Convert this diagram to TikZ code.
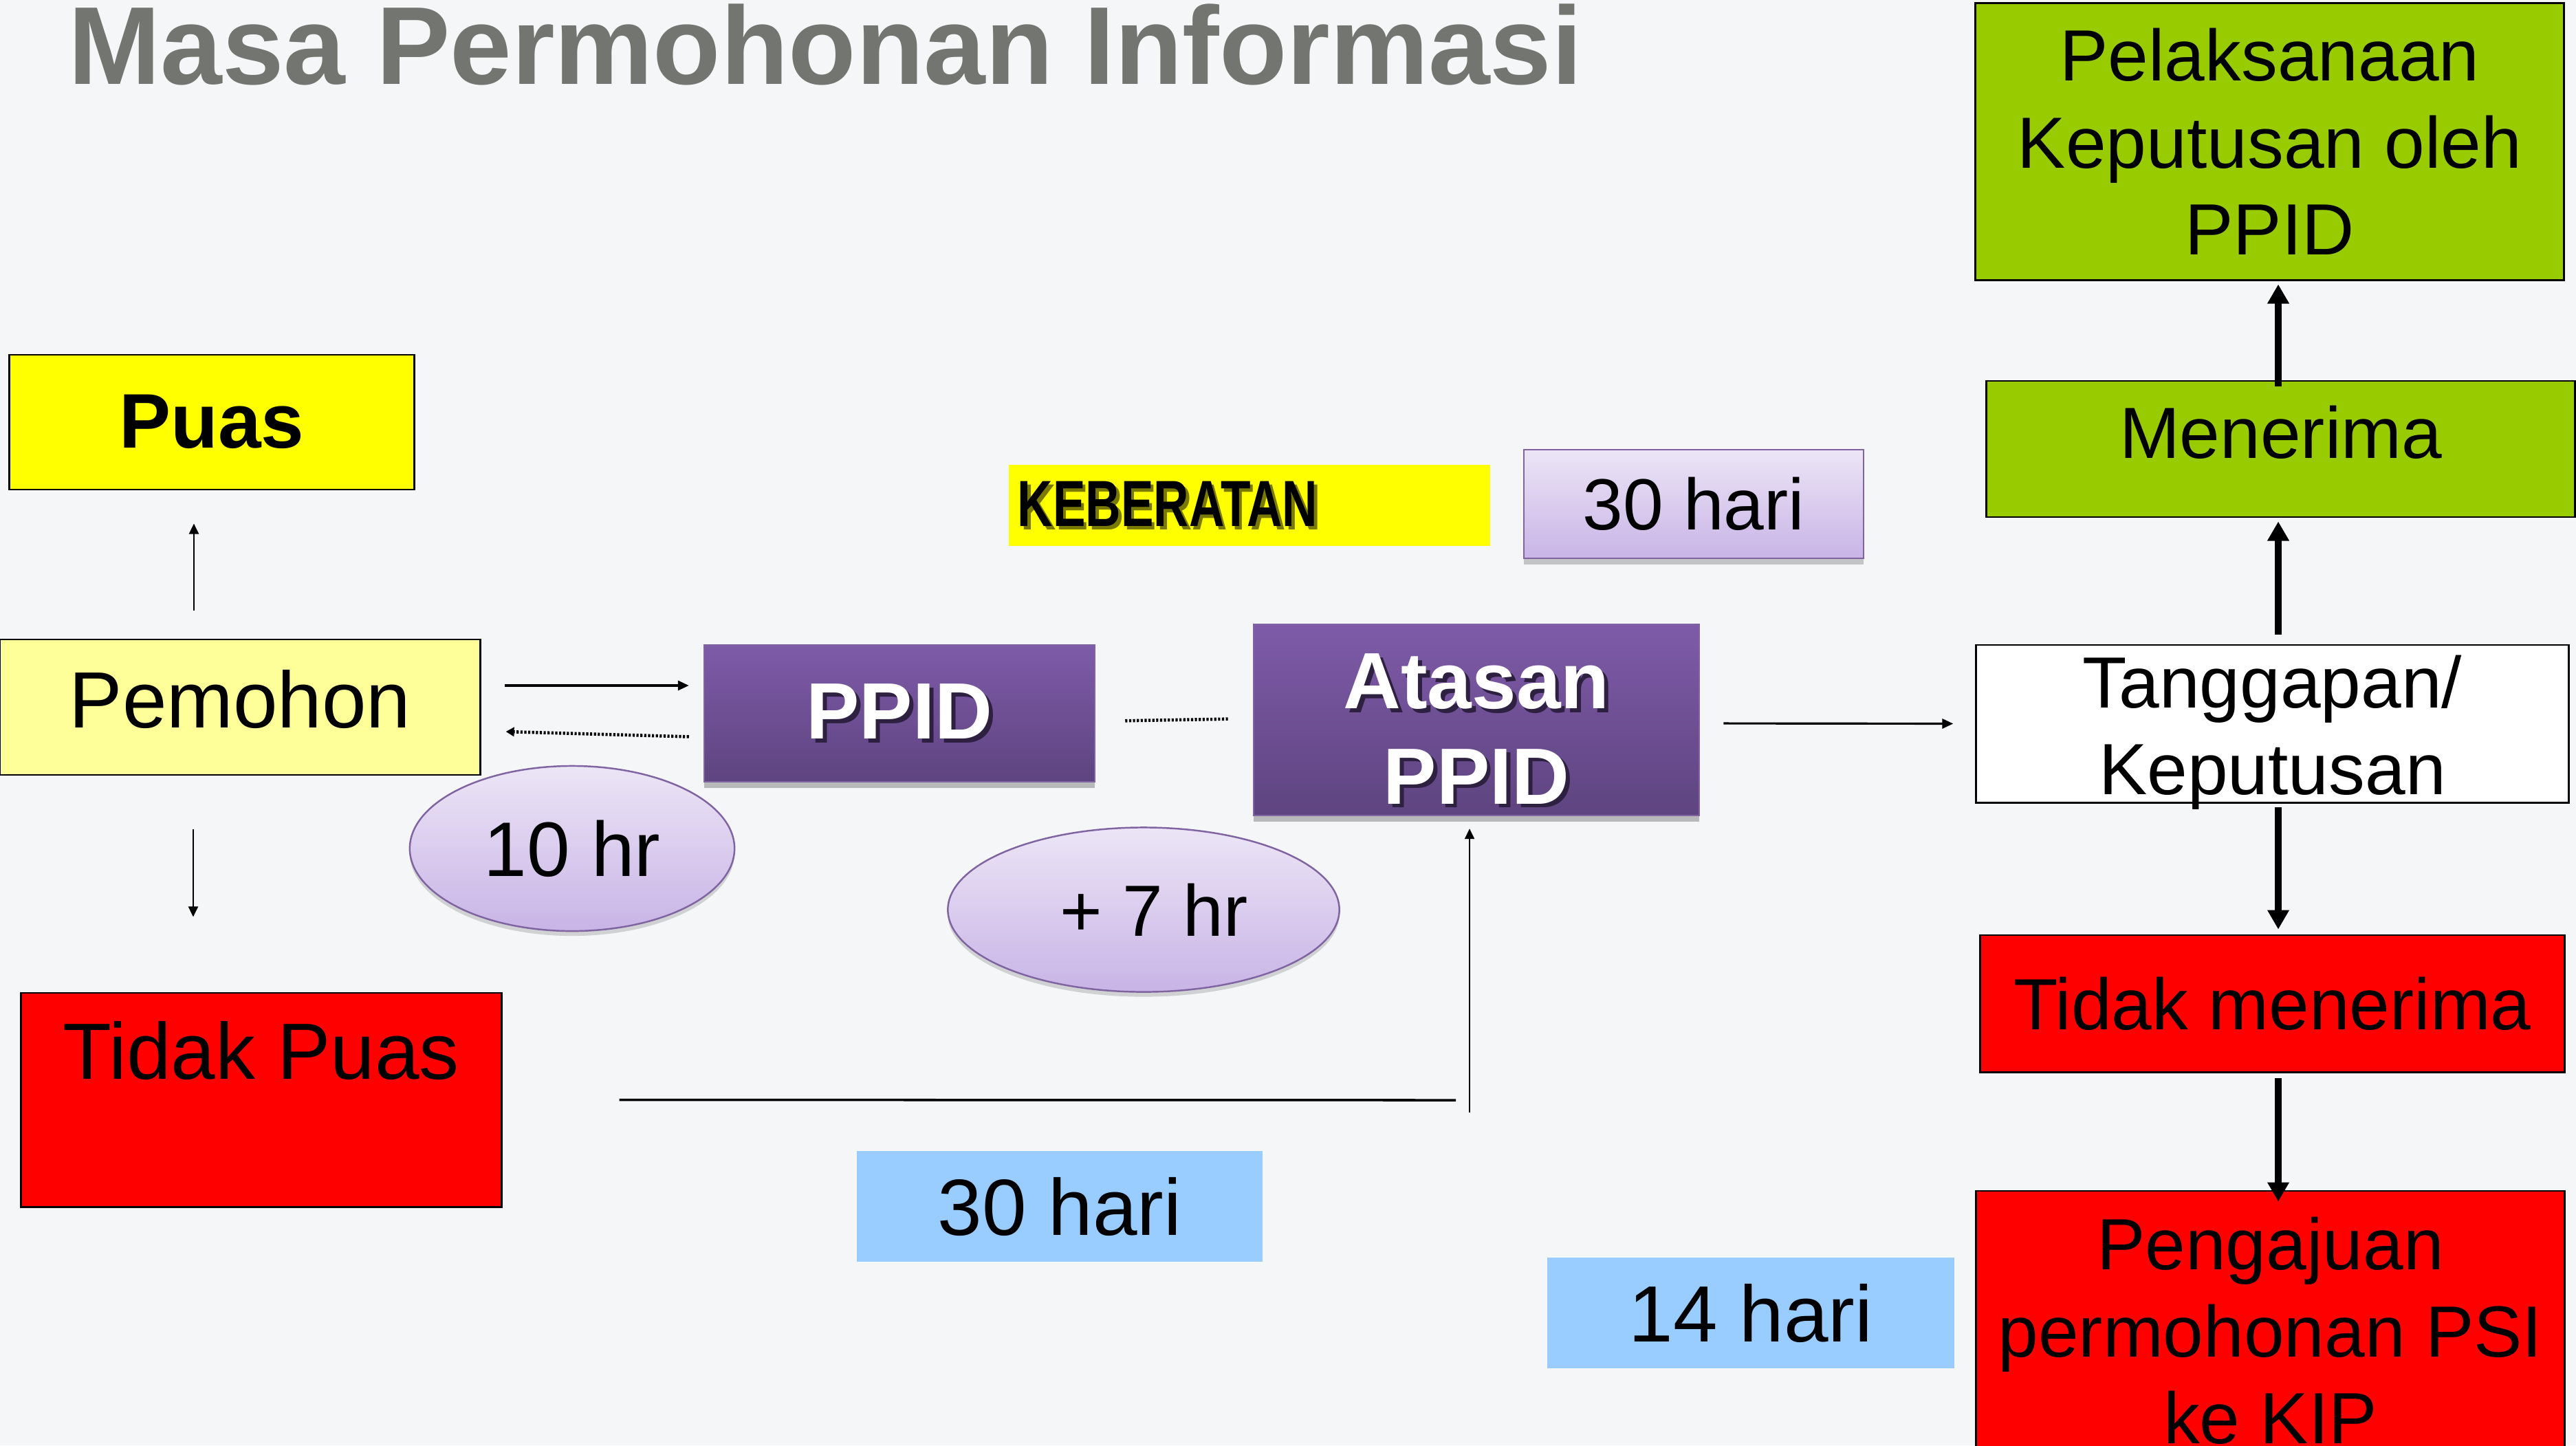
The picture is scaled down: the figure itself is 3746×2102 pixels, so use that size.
\documentclass[tikz,border=0pt]{standalone}
\usepackage{fontspec}
\setmainfont{Liberation Sans}
\newfontfamily\narrowfont[FakeStretch=0.75]{Liberation Sans}
\usetikzlibrary{shadows,arrows.meta,shapes.geometric}
\definecolor{bg}{HTML}{F4F6F8}
\definecolor{titlegray}{HTML}{737571}
\definecolor{yel}{HTML}{FFFF00}
\definecolor{lightyel}{HTML}{FFFF99}
\definecolor{redbox}{HTML}{FF0000}
\definecolor{greenbox}{HTML}{99CC00}
\definecolor{bluebox}{HTML}{99CCFF}
\definecolor{pptop}{HTML}{7E5BA8}
\definecolor{ppbot}{HTML}{5E4480}
\definecolor{ppedge}{HTML}{8064A2}
\definecolor{lavtop}{HTML}{ECE5F6}
\definecolor{lavbot}{HTML}{C8B4E6}
\definecolor{ppshadow}{HTML}{2E2040}
\definecolor{kbshadow}{HTML}{7A7A00}
\newcommand{\shadowed}[2]{\rlap{\kern0.05em\raisebox{-0.05em}{\textcolor{#1}{#2}}}#2}
\begin{document}
\begin{tikzpicture}[x=0.01cm, y=-0.01cm,
  f30/.style={font=\fontsize{30pt}{36pt}\selectfont},
  f32/.style={font=\fontsize{32pt}{38pt}\selectfont},
  f33/.style={font=\fontsize{33pt}{39.5pt}\selectfont},
  f33b/.style={font=\fontsize{33pt}{39.5pt}\selectfont\bfseries},
  plainbox/.style={draw=black, line width=0.8pt, inner sep=0pt, align=center},
  flatbox/.style={inner sep=0pt, align=center},
  purplebox/.style={top color=pptop, bottom color=ppbot, draw=ppedge, line width=0.6pt,
    inner sep=0pt, align=center, text=white,
    drop shadow={shadow xshift=0pt, shadow yshift=-2.5pt, opacity=0.25, fill=black}},
  lavbox/.style={top color=lavtop, bottom color=lavbot, draw=ppedge, line width=0.7pt,
    inner sep=0pt, align=center,
    drop shadow={shadow xshift=0pt, shadow yshift=-2.5pt, opacity=0.2, fill=black}},
  lavell/.style={ellipse, top color=lavtop, bottom color=lavbot, draw=ppedge, line width=0.7pt,
    inner sep=0pt, align=center,
    drop shadow={shadow xshift=0pt, shadow yshift=-2pt, opacity=0.15, fill=black}},
  thinarrow/.style={-{Triangle[width=0.14cm,length=0.16cm]}, line width=0.9pt},
  slimarrow/.style={-{Triangle[width=0.14cm,length=0.15cm]}, line width=0.6pt},
  thickarrow/.style={-{Triangle[width=0.3cm,length=0.28cm]}, line width=2.6pt},
  dotline/.style={line width=1.3pt, dash pattern=on 0.9pt off 0.7pt}
]
\fill[bg] (0,0) rectangle (3746,2102);
\useasboundingbox (0,0) rectangle (3746,2102);
\clip (0,0) rectangle (3746,2102);

% title
\node[anchor=base west, inner sep=0pt, text=titlegray,
  font=\fontsize{45.8pt}{50pt}\selectfont\bfseries] (title) at (99,122) {Masa Permohonan Informasi};

% left column
\node[plainbox, fill=yel, minimum width=5.88cm, minimum height=1.96cm,
  font=\fontsize{32pt}{38pt}\selectfont\bfseries, text height=0.8cm, text depth=0.05cm] (puas) at (308,614) {Puas};
\node[plainbox, fill=lightyel, minimum width=6.98cm, minimum height=1.97cm, f33,
  text height=0.85cm, text depth=0.26cm] (pemohon) at (349,1028.5) {Pemohon};
\node[plainbox, fill=redbox, minimum width=6.98cm, minimum height=3.11cm, f33,
  text height=0.83cm, text depth=1.44cm] (tidakpuas) at (380,1599.5) {Tidak Puas};

% middle
\node[purplebox, minimum width=5.68cm, minimum height=1.99cm, f33b] (ppid) at (1308,1037.5)
  {\shadowed{ppshadow}{PPID}};
\node[purplebox, minimum width=6.48cm, minimum height=2.78cm, f33b] (atasan) at (2147,1047)
  {\rule{0pt}{1.11cm}\shadowed{ppshadow}{Atasan}\\\shadowed{ppshadow}{PPID}};
\node[flatbox, fill=yel, minimum height=1.18cm, text width=6.74cm, inner xsep=0.13cm,
  align=left, font=\fontsize{27pt}{31pt}\narrowfont\bfseries] (keberatan) at (1817,735)
  {\shadowed{kbshadow}{KEBERATAN}};
\node[lavbox, minimum width=4.94cm, minimum height=1.58cm, f30] (hari30a) at (2463,733) {30 hari};
\node[lavell, minimum width=4.72cm, minimum height=2.4cm, f32] (tenhr) at (832,1234) {10 hr};
\node[lavell, minimum width=5.69cm, minimum height=2.39cm, f30] (sevenhr) at (1663,1323) {\hspace*{0.3cm}+ 7 hr};
\node[flatbox, fill=bluebox, minimum width=5.9cm, minimum height=1.61cm, f33] (hari30b) at (1541,1754.5) {30 hari};
\node[flatbox, fill=bluebox, minimum width=5.92cm, minimum height=1.61cm, f33] (hari14) at (2546,1909.5) {14 hari};

% right column
\node[plainbox, fill=greenbox, minimum width=8.55cm, minimum height=4.02cm, f30] (pelaksanaan) at (3300.5,206)
  {Pelaksanaan\\Keputusan oleh\\PPID};
\node[plainbox, fill=greenbox, minimum width=8.55cm, minimum height=1.98cm, f30,
  text height=0.75cm, text depth=0.49cm] (menerima) at (3316.5,653) {Menerima};
\node[draw=black, line width=0.8pt, inner sep=0pt, fill=white, minimum width=8.61cm, minimum height=2.29cm, f30,
  text height=0.5cm, text depth=0.97cm] (tanggapan) at (3304.5,1052.5)
  {\begin{tabular}[t]{@{}c@{}}Tanggapan/\\Keputusan\end{tabular}};
\node[plainbox, fill=redbox, minimum width=8.49cm, minimum height=1.99cm, f30] (tidakmenerima) at (3304.5,1459.5)
  {Tidak menerima};
\node[plainbox, fill=redbox, minimum width=8.55cm, minimum height=4.07cm, f30] (pengajuan) at (3301.5,1935.5)
  {Pengajuan\\permohonan PSI\\ke KIP};

% connectors, left
\draw[slimarrow, shorten <=0.41cm, shorten >=0.48cm]
  ([xshift=-0.67cm]pemohon.north) -- ([xshift=-0.67cm]pemohon.north |- puas.south);
\draw[slimarrow, shorten <=0.77cm, shorten >=1.09cm]
  ([xshift=-0.68cm]pemohon.south) -- ([xshift=-0.68cm]pemohon.south |- tidakpuas.north);
\draw[thinarrow, shorten <=0.34cm, shorten >=0.21cm]
  ([yshift=0.315cm]pemohon.east) -- ([yshift=0.315cm]pemohon.east -| ppid.west);
\draw[dotline, -{Triangle[width=0.13cm,length=0.12cm]}, shorten <=0.21cm, shorten >=0.36cm]
  ([yshift=-0.345cm]ppid.west) -- ([yshift=-0.345cm]pemohon.east);
\draw[dotline, shorten <=0.43cm, shorten >=0.35cm]
  ([yshift=-0.115cm]ppid.east) -- ([yshift=0.02cm]atasan.west);
\draw[thinarrow, shorten <=0.34cm, shorten >=0.32cm]
  ([yshift=-0.05cm]atasan.east) -- (tanggapan.west);

% bottom return line
\coordinate (corner) at (2137,1600);
\draw[line width=1pt, shorten <=1.7cm, shorten >=0.2cm] (tidakpuas.east) -- (corner);
\draw[slimarrow, shorten >=0.18cm] ([yshift=-0.18cm]corner) -- (corner |- atasan.south);

% right column arrows
\coordinate (colx) at (3313,0);
\draw[thickarrow, shorten <=0.14cm, shorten >=0.05cm] (colx |- tanggapan.north) -- (colx |- menerima.south);
\draw[thickarrow, shorten <=-0.09cm, shorten >=0.05cm] (colx |- menerima.north) -- (colx |- pelaksanaan.south);
\draw[thickarrow, shorten <=0.05cm, shorten >=0.07cm] (colx |- tanggapan.south) -- (colx |- tidakmenerima.north);
\draw[thickarrow, shorten <=0.07cm, shorten >=-0.17cm] (colx |- tidakmenerima.south) -- (colx |- pengajuan.north);
\end{tikzpicture}
\end{document}
